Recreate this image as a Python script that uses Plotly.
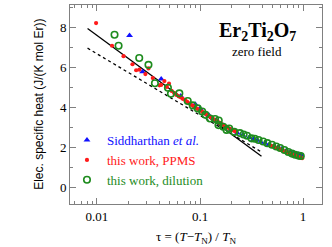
import plotly.graph_objects as go

# --- data ---
sid_tau = [0.0207, 0.0277, 0.0420, 0.0650, 0.0900, 0.1000, 0.122, 0.145, 0.170, 0.200,
           0.230, 0.260, 0.300, 0.330, 0.360, 0.390, 0.43, 0.47, 0.52, 0.57, 0.62,
           0.69, 0.76, 0.83, 0.90, 0.96]
sid_c = [7.58, 5.77, 5.42, 4.57, 4.16, 3.95, 3.61, 3.35, 3.10, 2.88,
         2.72, 2.62, 2.50, 2.42, 2.36, 2.27, 2.22, 2.15, 2.07, 2.00, 1.93,
         1.86, 1.79, 1.72, 1.67, 1.63]

ppms_tau = [0.0098, 0.0140, 0.0181, 0.0221, 0.0240, 0.0258, 0.0295, 0.0316, 0.0348, 0.0404,
            0.0419, 0.0451, 0.0476, 0.0500,
            0.053, 0.056, 0.059, 0.062, 0.065, 0.068, 0.072, 0.075, 0.079, 0.083, 0.087,
            0.091, 0.095, 0.100, 0.105, 0.110, 0.115, 0.121, 0.127, 0.133, 0.140, 0.147,
            0.154, 0.161, 0.169, 0.177, 0.186, 0.195, 0.205, 0.215, 0.225,
            0.48, 0.50, 0.52, 0.54, 0.56, 0.58, 0.60, 0.62, 0.64, 0.66, 0.68, 0.70,
            0.72, 0.74, 0.76, 0.78, 0.80, 0.83, 0.86, 0.89, 0.92, 0.95, 0.98]
ppms_c = [8.20, 7.07, 6.55, 6.15, 5.85, 5.88, 5.66, 5.94, 5.46, 5.10,
          5.12, 5.31, 5.02, 5.18,
          4.82, 4.72, 4.62, 4.55, 4.50, 4.43, 4.36, 4.28, 4.20, 4.12, 4.05,
          3.98, 3.92, 3.86, 3.79, 3.72, 3.65, 3.58, 3.52, 3.45, 3.38, 3.31,
          3.24, 3.18, 3.11, 3.05, 2.99, 2.93, 2.88, 2.83, 2.79,
          2.10, 2.07, 2.04, 2.00, 1.97, 1.94, 1.91, 1.88, 1.84, 1.81, 1.79, 1.76,
          1.74, 1.71, 1.69, 1.67, 1.64, 1.61, 1.58, 1.55, 1.52, 1.49, 1.47]

dil_tau = [0.0148, 0.0162, 0.0257, 0.0316, 0.0365, 0.0488, 0.0522, 0.0630, 0.0760, 0.085,
           0.095, 0.105, 0.113, 0.125, 0.140, 0.152, 0.151, 0.168, 0.181, 0.192,
           0.215, 0.244, 0.265, 0.286, 0.316, 0.34, 0.37, 0.41, 0.45, 0.50,
           0.55, 0.60, 0.66, 0.72, 0.78, 0.84, 0.90, 0.95]
dil_c = [7.62, 7.07, 6.46, 6.12, 5.20, 4.98, 4.68, 4.70, 4.32, 4.10,
         3.95, 3.80, 3.63, 3.45, 3.42, 3.35, 3.12, 3.04, 2.88, 2.95,
         2.78, 2.72, 2.65, 2.59, 2.46, 2.44, 2.38, 2.30, 2.22, 2.14,
         2.05, 1.98, 1.88, 1.78, 1.70, 1.64, 1.60, 1.58]

fit_tau = [0.0081, 0.395]
fit_solid = [7.93, 1.57]
fit_dotted = [6.95, 1.78]

x_ticks = [0.01, 0.1, 1]
x_ticklabels = ["0.01", "0.1", "1"]

BLUE = "#1010ff"
RED = "#ff1a1a"
GREEN = "#1e8c1e"
SERIF = "Liberation Serif"
SANS = "Liberation Sans"
AXC = "#808080"

fig = go.Figure()
fig.add_trace(go.Scatter(x=fit_tau, y=fit_solid, mode="lines",
                         line=dict(color="black", width=1.3), showlegend=False))
fig.add_trace(go.Scatter(x=fit_tau, y=fit_dotted, mode="lines",
                         line=dict(color="black", width=1.3, dash="dot"), showlegend=False))
fig.add_trace(go.Scatter(x=sid_tau, y=sid_c, mode="markers",
                         marker=dict(symbol="triangle-up", size=6, color=BLUE),
                         name=f"<span style='color:{BLUE}'>Siddharthan <i>et al.</i></span>"))
fig.add_trace(go.Scatter(x=ppms_tau, y=ppms_c, mode="markers",
                         marker=dict(symbol="circle", size=4.2, color=RED),
                         name=f"<span style='color:{RED}'>this work, PPMS</span>"))
fig.add_trace(go.Scatter(x=dil_tau, y=dil_c, mode="markers",
                         marker=dict(symbol="circle-open", size=6.5, color=GREEN,
                                     line=dict(width=1.6, color=GREEN)),
                         name=f"<span style='color:{GREEN}'>this work, dilution</span>"))

minor_x = [m * 10 ** e for e in (-3, -2, -1, 0) for m in range(2, 10)]

fig.update_xaxes(type="log", range=[-2.262, 0.184],
                 tickmode="array", tickvals=x_ticks, ticktext=x_ticklabels,
                 ticks="inside", ticklen=6, tickcolor=AXC,
                 showline=True, linecolor=AXC, linewidth=1, mirror="allticks",
                 showgrid=False, zeroline=False,
                 tickfont=dict(family=SERIF, size=13, color="black"),
                 minor=dict(tickmode="array", tickvals=minor_x, ticks="inside",
                            ticklen=3, tickcolor=AXC, showgrid=False))
fig.update_yaxes(range=[-0.81, 9.1], dtick=2, tick0=0,
                 ticks="inside", ticklen=6, tickcolor=AXC,
                 showline=True, linecolor=AXC, linewidth=1, mirror="allticks",
                 showgrid=False, zeroline=False,
                 tickfont=dict(family=SERIF, size=13, color="black"),
                 minor=dict(dtick=1, tick0=0, ticks="inside", ticklen=3,
                            tickcolor=AXC, showgrid=False))

fig.add_annotation(text="Elec. specific heat (J/(K mol Er))", textangle=-90,
                   xref="paper", yref="paper", x=-0.1255, y=0.5,
                   xanchor="center", yanchor="middle", showarrow=False,
                   font=dict(family=SANS, size=12, color="black"))
fig.add_annotation(text="τ = (<i>T</i>−<i>T</i><sub>N</sub>) / <i>T</i><sub>N</sub>",
                   xref="paper", yref="paper", x=0.5, y=-0.166,
                   xanchor="center", yanchor="middle", showarrow=False,
                   font=dict(family=SERIF, size=13, color="black"))
fig.add_annotation(text="<b>Er<sub>2</sub>Ti<sub>2</sub>O<sub>7</sub></b>",
                   xref="paper", yref="paper", x=0.745, y=0.865,
                   xanchor="center", yanchor="middle", showarrow=False,
                   font=dict(family=SERIF, size=20, color="black"))
fig.add_annotation(text="zero field",
                   xref="paper", yref="paper", x=0.744, y=0.765,
                   xanchor="center", yanchor="middle", showarrow=False,
                   font=dict(family=SERIF, size=13, color="black"))

fig.update_layout(width=332, height=247,
                  margin=dict(l=70, r=10, t=5, b=43),
                  paper_bgcolor="white", plot_bgcolor="white",
                  legend=dict(x=-0.012, y=0.045, xanchor="left", yanchor="bottom",
                              bgcolor="rgba(0,0,0,0)", borderwidth=0,
                              font=dict(family=SERIF, size=13, color="black"),
                              tracegroupgap=0, itemwidth=30),
                  showlegend=True)

fig.write_html("out.html", config={"displayModeBar": False},
               post_script="document.body.style.margin='0';document.body.style.overflow='hidden';")
